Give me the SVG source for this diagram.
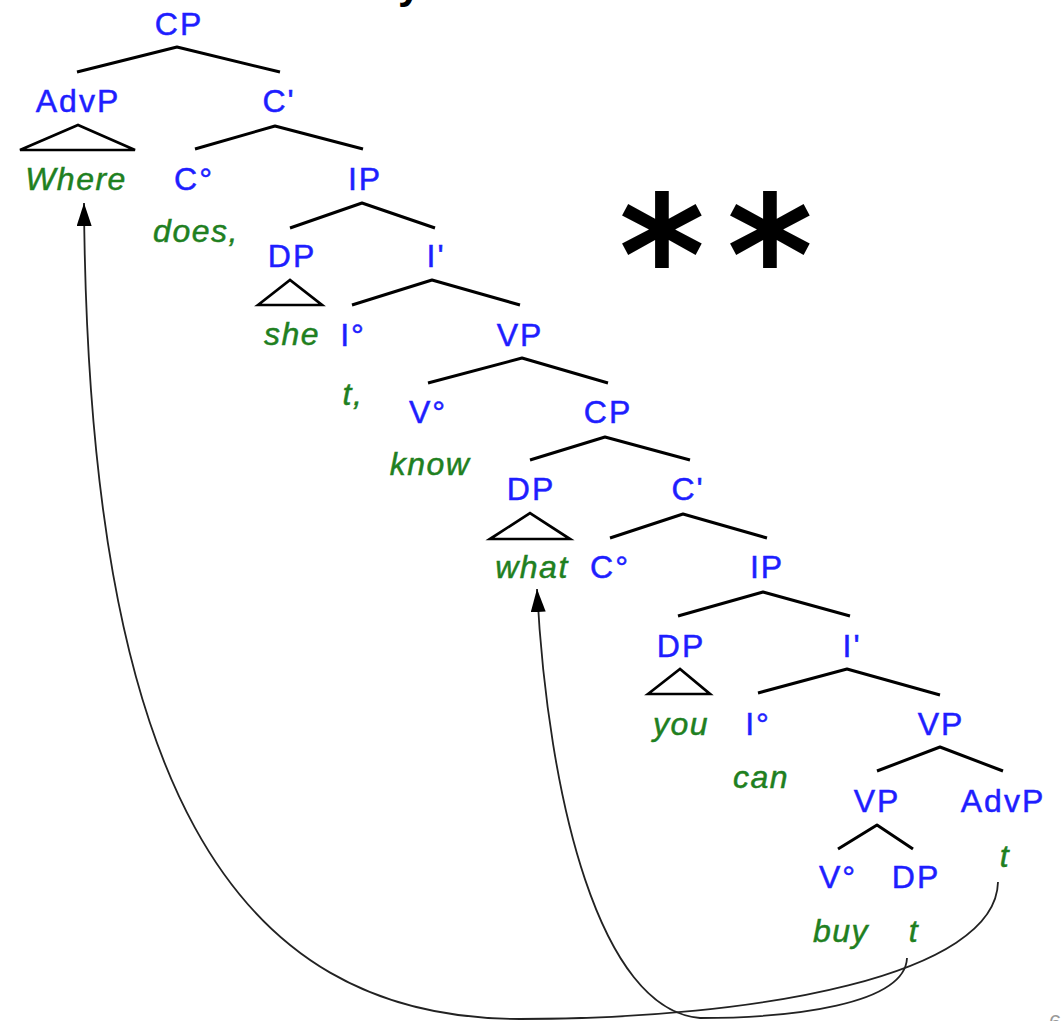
<svg xmlns="http://www.w3.org/2000/svg" width="1061" height="1021" viewBox="0 0 1061 1021">
  <defs>
    <style>
      .cat { font-family: "Liberation Sans", Arial, sans-serif; font-size: 32px; letter-spacing: 2px; fill: #1e1eff; stroke: #1e1eff; stroke-width: 0.5px; text-anchor: middle; }
      .word { font-family: "Liberation Sans", Arial, sans-serif; font-size: 32px; letter-spacing: 1.5px; font-style: italic; fill: #1f801f; stroke: #1f801f; stroke-width: 0.5px; text-anchor: middle; }
      .branch { fill: none; stroke: #000; stroke-width: 3; stroke-linejoin: round; stroke-linecap: butt; }
      .tri { fill: none; stroke: #000; stroke-width: 2.7; stroke-linejoin: miter; }
      .move { fill: none; stroke: #222; stroke-width: 1.8; }
      .star { font-family: "DejaVu Sans", sans-serif; font-weight: bold; font-size: 165px; fill: #000; text-anchor: middle; }
    </style>
    <marker id="head" markerUnits="userSpaceOnUse" markerWidth="23" markerHeight="15" refX="23" refY="7.5" orient="auto" viewBox="0 0 23 15">
      <path d="M0,0 L23,7.5 L0,15 Z" fill="#000"/>
    </marker>
  </defs>

  <rect width="1061" height="1021" fill="#fff"/>

  <!-- cut-off heading and page number at the edges -->
  <text x="398" y="-2" font-family="Liberation Sans, Arial, sans-serif" font-size="42" font-weight="bold" fill="#000">y</text>
  <text x="1049" y="1030" font-family="Liberation Sans, Arial, sans-serif" font-size="22" fill="#999">6</text>

  <!-- ungrammaticality mark -->
  <text class="star" y="314"><tspan x="662">*</tspan><tspan x="770">*</tspan></text>

  <!-- tree branches -->
  <g id="connectors">
    <polyline class="branch" points="77,72 177,47 280,72"/>
    <polyline class="branch" points="195,149 275,126 363,149"/>
    <polygon class="tri" points="20,150 78,125 135,150"/>
    <polyline class="branch" points="290,228 362,203 435,228"/>
    <polygon class="tri" points="258,305 290,280 322,305"/>
    <polyline class="branch" points="352,305 432,280 520,305"/>
    <polyline class="branch" points="428,383 522,358 608,383"/>
    <polyline class="branch" points="530,460 605,437 690,460"/>
    <polygon class="tri" points="490,539 530,513 570,539"/>
    <polyline class="branch" points="610,538 683,514 767,538"/>
    <polyline class="branch" points="678,616 763,592 850,616"/>
    <polygon class="tri" points="648,694 680,669 710,694"/>
    <polyline class="branch" points="758,693 847,669 940,695"/>
    <polyline class="branch" points="877,771 940,747 1003,771"/>
    <polyline class="branch" points="838,849 877,825 913,849"/>
    <!-- movement arrows -->
    <path class="move" d="M998,882 C996,975 760,1019 520,1019 C230,1019 88,780 84,203" marker-end="url(#head)"/>
    <path class="move" d="M907,958 C905,1005 790,1018 700,1018 C600,1010 548,800 537,589" marker-end="url(#head)"/>
  </g>

  <!-- matrix clause -->
  <g id="n-cp1"><text class="cat" x="179" y="35">CP</text></g>
  <g id="n-advp1"><text class="cat" x="78" y="112">AdvP</text><text class="word" x="76" y="190">Where</text></g>
  <g id="n-cbar1"><text class="cat" x="279" y="112">C'</text></g>
  <g id="n-c1"><text class="cat" x="194" y="190">C°</text><text class="word" x="196" y="242">does,</text></g>
  <g id="n-ip1"><text class="cat" x="365" y="190">IP</text></g>
  <g id="n-dp1"><text class="cat" x="292" y="267">DP</text><text class="word" x="292" y="345">she</text></g>
  <g id="n-ibar1"><text class="cat" x="436" y="267">I'</text></g>
  <g id="n-i1"><text class="cat" x="353" y="346">I°</text><text class="word" x="353" y="405">t,</text></g>
  <g id="n-vp1"><text class="cat" x="520" y="346">VP</text></g>
  <g id="n-v1"><text class="cat" x="428" y="423">V°</text><text class="word" x="430" y="475">know</text></g>

  <!-- embedded clause -->
  <g id="n-cp2"><text class="cat" x="608" y="423">CP</text></g>
  <g id="n-dp2"><text class="cat" x="531" y="500">DP</text><text class="word" x="532" y="578">what</text></g>
  <g id="n-cbar2"><text class="cat" x="688" y="500">C'</text></g>
  <g id="n-c2"><text class="cat" x="610" y="578">C°</text></g>
  <g id="n-ip2"><text class="cat" x="767" y="578">IP</text></g>
  <g id="n-dp3"><text class="cat" x="681" y="657">DP</text><text class="word" x="681" y="735">you</text></g>
  <g id="n-ibar3"><text class="cat" x="852" y="657">I'</text></g>
  <g id="n-i3"><text class="cat" x="758" y="735">I°</text><text class="word" x="761" y="788">can</text></g>
  <g id="n-vp3"><text class="cat" x="941" y="735">VP</text></g>
  <g id="n-vp4"><text class="cat" x="877" y="812">VP</text></g>
  <g id="n-advp2"><text class="cat" x="1003" y="812">AdvP</text><text class="word" x="1005" y="867">t</text></g>
  <g id="n-v4"><text class="cat" x="838" y="888">V°</text><text class="word" x="841" y="942">buy</text></g>
  <g id="n-dp4"><text class="cat" x="916" y="888">DP</text><text class="word" x="914" y="942">t</text></g>
</svg>
